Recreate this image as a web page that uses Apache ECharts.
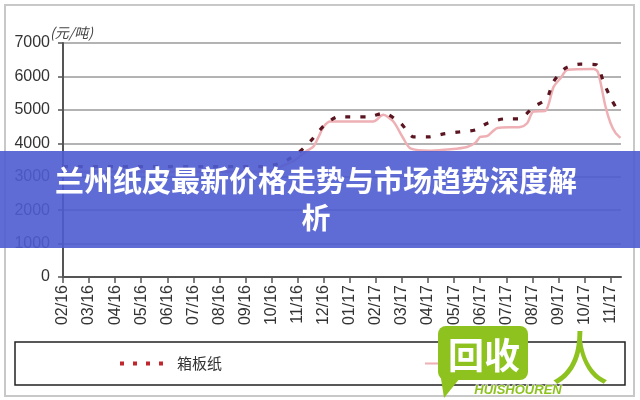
<!DOCTYPE html>
<html>
<head>
<meta charset="utf-8">
<script src="https://cdn.jsdelivr.net/npm/echarts@6/dist/echarts.min.js"></script>
<style>
html,body{margin:0;padding:0;background:#fff;}
#chart{width:640px;height:400px;}
</style>
</head>
<body>
<div id="chart"></div>
<script>
// Month tick labels (index 0 = 02/16)
const monthLabels = ['02/16','03/16','04/16','05/16','06/16','07/16','08/16','09/16','10/16','11/16','12/16',
  '01/17','02/17','03/17','04/17','05/17','06/17','07/17','08/17','09/17','10/17','11/17'];
const yTicks = [0, 1000, 2000, 3000, 4000, 5000, 6000, 7000];

// 箱板纸 (dashed series): time in months from 02/16, price in 元/吨
const boardT     = [0,    7.6,  8.4,  9.0,  9.5,  10.0, 10.55, 11.7, 12.3, 12.95, 13.45, 14.0, 14.6, 15.2, 15.8, 16.3, 16.95, 17.5, 18.05, 18.55, 18.8, 19.27, 19.85, 20.46, 20.73, 21.04, 21.38];
const boardPrice = [3300, 3300, 3420, 3700, 4070, 4520, 4790,  4790, 4900, 4600,  4190,  4190, 4280, 4340, 4400, 4610, 4730,  4730, 5090,  5330,  5830, 6250,  6370,  6350,  5830,  5300,  4850];

// 瓦楞纸 (solid pink series)
const corrT     = [0,    7.8,  8.5,  8.9,  9.3,  9.6,  9.8,  10.0, 10.25, 11.9, 12.28, 12.67, 13.05, 13.32, 14.1, 14.86, 15.5, 15.82, 16.0, 16.28, 16.66, 17.54, 17.8, 18.04, 18.5, 18.81, 19.08, 19.35, 20.35, 20.5, 20.62, 20.81, 21.0, 21.19, 21.38];
const corrPrice = [3150, 3150, 3350, 3500, 3750, 3900, 4190, 4500, 4650,  4650, 4850,  4650,  4150,  3850,  3780, 3820,  3890, 4020,  4190, 4220,  4460,  4490,  4600, 4950,  4970, 5680,  5950,  6200,  6220,  6150, 5800,  5085,  4600, 4310,  4160];

const seriesNames = ['箱板纸', '瓦楞纸'];
const titleLines = ['兰州纸皮最新价格走势与市场趋势深度解', '析'];
const unitText = '(元/吨)';

const chart = echarts.init(document.getElementById('chart'));
const axisFont = "'Liberation Sans',Arial,sans-serif";
const cjk = "'Noto Sans CJK SC','Noto Sans',sans-serif";

chart.setOption({
  animation: false,
  grid: { left: 63, right: 19, top: 43, bottom: 123 },
  xAxis: {
    type: 'value',
    min: 0,
    max: 21.4,
    interval: 1,
    splitLine: { show: false },
    axisLine: { show: true, lineStyle: { color: '#555', width: 2 } },
    axisTick: { show: true, length: 6, lineStyle: { color: '#555', width: 1.5 },
      customValues: monthLabels.map((_, i) => i) },
    axisLabel: {
      customValues: monthLabels.map((_, i) => i),
      rotate: 90, margin: 8, fontSize: 16, color: '#333', fontFamily: axisFont,
      formatter: v => monthLabels[Math.round(v)] || ''
    }
  },
  yAxis: {
    type: 'value',
    min: 0, max: 7000, interval: 1000,
    axisLine: { show: true, lineStyle: { color: '#555', width: 2 } },
    axisTick: { show: true, length: 5, lineStyle: { color: '#555', width: 1.5 } },
    axisLabel: { margin: 13, fontSize: 16, color: '#333', fontFamily: axisFont,
      formatter: v => yTicks.indexOf(v) >= 0 ? String(v) : '' },
    splitLine: { show: true, lineStyle: { color: '#9a9a9a', width: 1.5 } }
  },
  legend: {
    left: 15, top: 342,
    padding: [14, 98, 14, 103],
    itemWidth: 52, itemHeight: 10, itemGap: 202,
    borderColor: '#222', borderWidth: 1.5,
    textStyle: { fontSize: 15, color: '#333', fontFamily: cjk },
    data: [
      { name: seriesNames[0], itemStyle: { opacity: 0 }, lineStyle: { color: '#c0272d', type: [4, 9], width: 4 } },
      { name: seriesNames[1], itemStyle: { opacity: 0 } }
    ]
  },
  series: [
    {
      name: seriesNames[1], type: 'line', symbol: 'none', smooth: 0.25,
      data: corrT.map((t, i) => [t, corrPrice[i]]),
      lineStyle: { color: '#eeb0b4', width: 2.5 },
      itemStyle: { color: '#eeb0b4' }, z: 2
    },
    {
      name: seriesNames[0], type: 'line', symbol: 'none', smooth: 0.25,
      data: boardT.map((t, i) => [t, boardPrice[i]]),
      lineStyle: { color: '#5a1520', width: 3.2, type: [5, 10] },
      itemStyle: { color: '#5a1520' }, z: 3
    }
  ],
  graphic: [
    { type: 'rect', z: 0, shape: { x: 5, y: 5, width: 629, height: 391 },
      style: { fill: 'none', stroke: '#c8c8c8', lineWidth: 2 } },
    { type: 'text', z: 5, x: 50, y: 33,
      style: { text: unitText, fontSize: 14, fontStyle: 'italic', fill: '#444', fontFamily: cjk, verticalAlign: 'middle' } },
    // title banner
    { type: 'rect', z: 100, shape: { x: 0, y: 151, width: 640, height: 97 },
      style: { fill: 'rgba(78,92,208,0.9)' } },
    { type: 'text', z: 101, x: 316, y: 181,
      style: { text: titleLines[0], fontSize: 29, fontWeight: 'bold', fill: '#fff', fontFamily: cjk,
        align: 'center', verticalAlign: 'middle' } },
    { type: 'text', z: 101, x: 316, y: 218,
      style: { text: titleLines[1], fontSize: 29, fontWeight: 'bold', fill: '#fff', fontFamily: cjk,
        align: 'center', verticalAlign: 'middle' } },
    // watermark logo
    { type: 'rect', z: 110, shape: { x: 438, y: 326, width: 90, height: 54, r: 8 },
      style: { fill: '#8dc21f' } },
    { type: 'polygon', z: 110, shape: { points: [[440, 372], [460, 378], [444, 398]] },
      style: { fill: '#8dc21f' } },
    { type: 'text', z: 111, x: 484, y: 355,
      style: { text: '回收', fontSize: 36, fontWeight: 'bold', fill: '#fff', fontFamily: cjk,
        align: 'center', verticalAlign: 'middle' } },
    { type: 'text', z: 111, x: 580, y: 358,
      style: { text: '人', fontSize: 58, fill: '#8dc21f', fontFamily: cjk,
        align: 'center', verticalAlign: 'middle' } },
    { type: 'text', z: 111, x: 518, y: 390,
      style: { text: 'HUISHOUREN', fontSize: 13, fontWeight: 'bold', fontStyle: 'italic', fill: '#8dc21f',
        stroke: '#fff', lineWidth: 1, fontFamily: "'Liberation Sans',sans-serif", align: 'center', verticalAlign: 'middle' } }
  ]
});
</script>
</body>
</html>
